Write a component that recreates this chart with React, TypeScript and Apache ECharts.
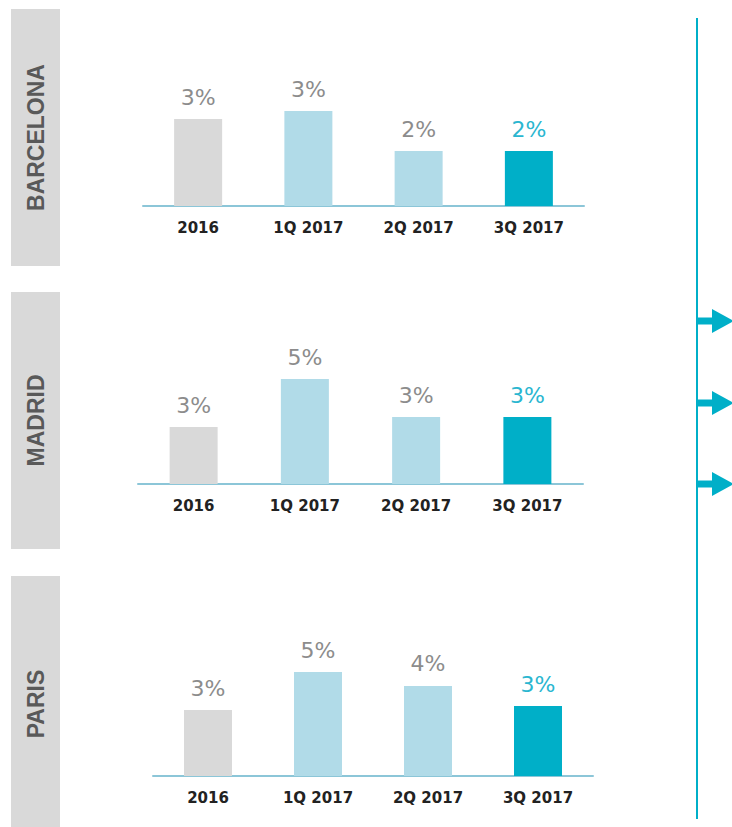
import React, { useEffect, useRef } from "react";
import * as echarts from "echarts";

const categories = ["2016", "1Q 2017", "2Q 2017", "3Q 2017"];
const cities = ["BARCELONA", "MADRID", "PARIS"];
const barcelonaValues = [2.61, 2.85, 1.65, 1.65];
const madridValues = [2.71, 5.0, 3.19, 3.19];
const parisValues = [3.14, 4.95, 4.29, 3.33];
const barColors = ["#d9d9d9", "#b1dbe8", "#b1dbe8", "#00afc8"];
const labelColors = ["#8c8c8c", "#8c8c8c", "#8c8c8c", "#2ab6d0"];

const TEAL = "#00afc8";

export default function App() {
  const ref = useRef<HTMLDivElement>(null);
  useEffect(() => {
    if (!ref.current) return;
    const chart = echarts.init(ref.current, undefined, { renderer: "svg" });
    const panels = [
      { values: barcelonaValues, left: 143, width: 441, top: 86, height: 120, max: 3.6 },
      { values: madridValues, left: 138, width: 445, top: 358, height: 126, max: 6 },
      { values: parisValues, left: 153, width: 440, top: 650, height: 126, max: 6 },
    ];
    const boxes = [
      { top: 9, bottom: 266 },
      { top: 292, bottom: 549 },
      { top: 576, bottom: 827 },
    ];
    const graphic: any[] = [];
    boxes.forEach((b, i) => {
      graphic.push({
        type: "rect",
        shape: { x: 11, y: b.top, width: 49, height: b.bottom - b.top },
        style: { fill: "#d9d9d9" },
        silent: true,
      });
      graphic.push({
        type: "text",
        x: 36,
        y: i === 2 ? 704 : (b.top + b.bottom) / 2,
        rotation: Math.PI / 2,
        style: {
          text: cities[i],
          fill: "#595959",
          font: "bold 23px 'Liberation Sans', Arial, sans-serif",
          align: "center",
          verticalAlign: "middle",
        },
      });
    });
    graphic.push({
      type: "line",
      shape: { x1: 697, y1: 18, x2: 697, y2: 819 },
      style: { stroke: TEAL, lineWidth: 2 },
    });
    [321, 403, 484].forEach((y) => {
      graphic.push({
        type: "rect",
        shape: { x: 697, y: y - 3.5, width: 17, height: 7 },
        style: { fill: TEAL },
      });
      graphic.push({
        type: "polygon",
        shape: { points: [[712, y - 12], [734, y], [712, y + 12]] },
        style: { fill: TEAL },
      });
    });

    chart.setOption({
      animation: false,
      graphic,
      grid: panels.map((p) => ({ left: p.left, width: p.width, top: p.top, height: p.height })),
      xAxis: panels.map((p, i) => ({
        type: "category",
        gridIndex: i,
        data: categories,
        axisLine: { show: true, lineStyle: { color: "#8cc6d8", width: 2 } },
        axisTick: { show: false },
        axisLabel: {
          margin: 14,
          color: "#222",
          fontWeight: "bold",
          fontSize: 15,
          fontFamily: "'DejaVu Sans', sans-serif",
        },
      })),
      yAxis: panels.map((p, i) => ({
        type: "value",
        gridIndex: i,
        min: 0,
        max: p.max,
        show: false,
        splitLine: { show: false },
      })),
      series: panels.map((p, i) => ({
        type: "bar",
        xAxisIndex: i,
        yAxisIndex: i,
        barWidth: 48,
        data: p.values.map((v, j) => ({
          value: v,
          itemStyle: { color: barColors[j] },
          label: { color: labelColors[j] },
        })),
        label: {
          show: true,
          position: "top",
          distance: 11,
          fontSize: 22,
          fontFamily: "'DejaVu Sans', sans-serif",
          formatter: (d: any) => Math.round(d.value) + "%",
        },
      })),
    });
    return () => chart.dispose();
  }, []);
  return (
    <div
      ref={ref}
      style={{ position: "fixed", left: 0, top: 0, width: 732, height: 827, background: "#fff" }}
    />
  );
}
